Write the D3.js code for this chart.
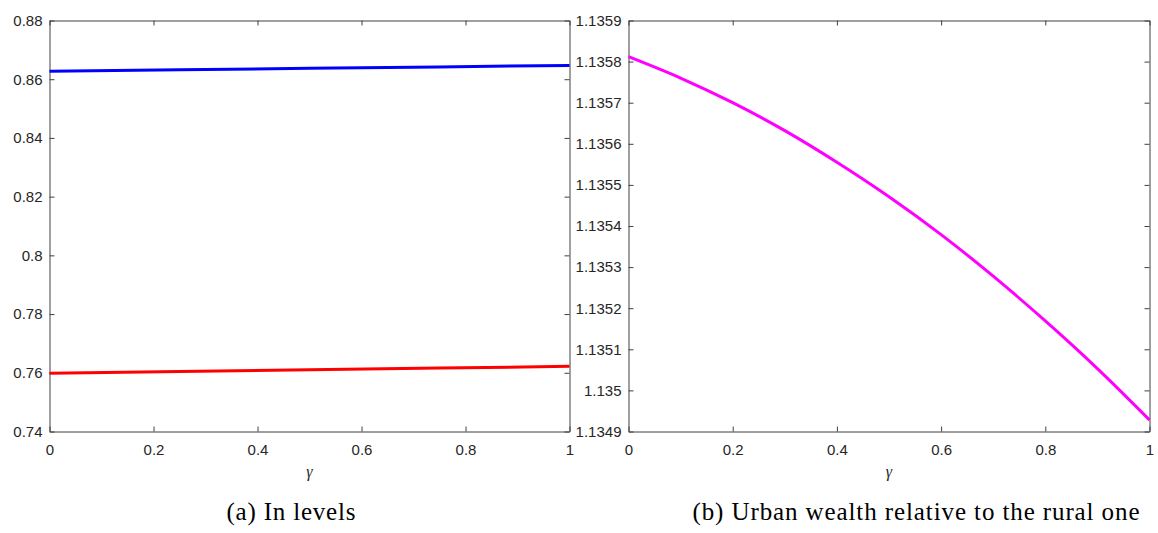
<!DOCTYPE html>
<html>
<head>
<meta charset="utf-8">
<script src="https://cdn.jsdelivr.net/npm/d3@7"></script>
<style>
  html, body { margin: 0; padding: 0; background: #fff; }
  svg { display: block; }
  .tick text { font-family: "Liberation Sans", Arial, sans-serif; font-size: 15px; fill: #262626; }
  .cap { font-family: "Liberation Serif", "DejaVu Serif", serif; font-size: 25px; fill: #000; }
  .xl { font-family: "Liberation Serif", serif; font-style: italic; font-size: 16px; fill: #262626; }
</style>
</head>
<body>
<svg id="chart" width="1158" height="533"></svg>
<script>
// gamma grid and series
const gammaLevels = [0, 0.5, 1];
const urbanLevels = [0.8627, 0.8637, 0.8647];
const ruralLevels = [0.7598, 0.7610, 0.7622];

const gammaRatio = [0, 0.1, 0.2, 0.3, 0.4, 0.5, 0.6, 0.7, 0.8, 0.9, 1];
const wealthRatio = [1.135812, 1.135760, 1.135700, 1.135632, 1.135555, 1.135471,
                     1.135379, 1.135278, 1.135169, 1.135053, 1.134928];

const xTicks = [0, 0.2, 0.4, 0.6, 0.8, 1];
const xTickLabels = ["0", "0.2", "0.4", "0.6", "0.8", "1"];
const yTicksA = [0.74, 0.76, 0.78, 0.80, 0.82, 0.84, 0.86, 0.88];
const yTickLabelsA = ["0.74", "0.76", "0.78", "0.8", "0.82", "0.84", "0.86", "0.88"];
const yTicksB = [1.1349, 1.1350, 1.1351, 1.1352, 1.1353, 1.1354, 1.1355, 1.1356, 1.1357, 1.1358, 1.1359];
const yTickLabelsB = ["1.1349", "1.135", "1.1351", "1.1352", "1.1353", "1.1354", "1.1355", "1.1356", "1.1357", "1.1358", "1.1359"];

const captions = ["(a) In levels", "(b) Urban wealth relative to the rural one"];

const svg = d3.select("#chart");
const axisColor = "#404040";

function panel(opts) {
  const x = d3.scaleLinear().domain([0, 1]).range([opts.left, opts.right]);
  const y = d3.scaleLinear().domain(opts.yDomain).range([opts.bottom, opts.top]);
  const g = svg.append("g");
  const tickLen = 5;

  // frame ticks on all four sides, pointing inward
  const axes = [
    { ax: d3.axisBottom(x).tickValues(xTicks).tickFormat((d, i) => xTickLabels[i]), tr: `translate(0,${opts.bottom})` },
    { ax: d3.axisTop(x).tickValues(xTicks).tickFormat(""), tr: `translate(0,${opts.top})` },
    { ax: d3.axisLeft(y).tickValues(opts.yTicks).tickFormat((d, i) => opts.yLabels[i]), tr: `translate(${opts.left},0)` },
    { ax: d3.axisRight(y).tickValues(opts.yTicks).tickFormat(""), tr: `translate(${opts.right},0)` }
  ];
  axes.forEach((a, k) => {
    const ag = g.append("g").attr("transform", a.tr)
      .call(a.ax.tickSizeInner(-tickLen).tickSizeOuter(0).tickPadding(8));
    ag.select(".domain").attr("stroke", axisColor).attr("stroke-width", 1);
    ag.selectAll(".tick line").attr("stroke", axisColor);
    if (k === 0) ag.selectAll(".tick text").attr("dy", "0.9em").attr("y", 10);
    if (k === 2) ag.selectAll(".tick text").attr("x", -7);
  });

  const line = d3.line().x(d => x(d[0])).y(d => y(d[1])).curve(d3.curveMonotoneX);
  opts.series.forEach(s => {
    g.append("path")
      .datum(s.xs.map((v, i) => [v, s.ys[i]]))
      .attr("fill", "none")
      .attr("stroke", s.color)
      .attr("stroke-width", 3)
      .attr("d", line);
  });

  g.append("text").attr("class", "xl")
    .attr("x", (opts.left + opts.right) / 2).attr("y", opts.bottom + 45)
    .attr("text-anchor", "middle").text("γ");

  g.append("text").attr("class", "cap")
    .attr("x", opts.capX).attr("y", 520)
    .attr("text-anchor", "middle")
    .attr("textLength", opts.capW).attr("lengthAdjust", "spacing")
    .text(opts.caption);
}

panel({
  left: 49.5, right: 569.5, top: 20.5, bottom: 431.5,
  yDomain: [0.74, 0.88], yTicks: yTicksA, yLabels: yTickLabelsA,
  series: [
    { xs: gammaLevels, ys: urbanLevels, color: "#0000ff" },
    { xs: gammaLevels, ys: ruralLevels, color: "#ff0000" }
  ],
  caption: captions[0], capX: 291, capW: 129
});

panel({
  left: 628.5, right: 1149.5, top: 20.5, bottom: 431.5,
  yDomain: [1.1349, 1.1359], yTicks: yTicksB, yLabels: yTickLabelsB,
  series: [
    { xs: gammaRatio, ys: wealthRatio, color: "#ff00ff" }
  ],
  caption: captions[1], capX: 916, capW: 447
});
</script>
</body>
</html>
